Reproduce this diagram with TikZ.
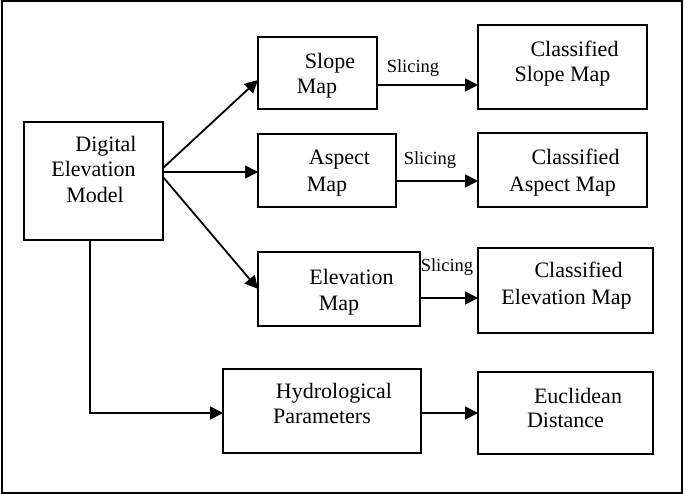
\documentclass[tikz,border=0pt]{standalone}
\usepackage{fontspec}
\setmainfont{Liberation Serif}
\usetikzlibrary{arrows.meta}
\begin{document}
\begin{tikzpicture}[x=1pt,y=-1pt,
  box/.style={draw=black,line width=1.4pt,inner sep=0pt,outer sep=0pt},
  txt/.style={font=\fontsize{22}{25}\selectfont,anchor=base,inner sep=0pt,text=black},
  sl/.style={font=\fontsize{18.5}{20}\selectfont,anchor=base,inner sep=0pt,text=black},
  arr/.style={line width=1.8pt,-{Triangle[length=13pt,width=13pt]}},
  ln/.style={line width=1.8pt}]
\useasboundingbox (0,0) rectangle (685,494);
\draw[line width=2pt] (1.5,1.5) rectangle (681.5,492.5);
% boxes
\node[box,minimum width=139pt,minimum height=118pt] (dem) at (93.5,181) {};
\node[box,minimum width=119pt,minimum height=72pt] (slope) at (317.5,73) {};
\node[box,minimum width=169pt,minimum height=84pt] (cslope) at (562.5,67) {};
\node[box,minimum width=138pt,minimum height=73pt] (aspect) at (327,170.5) {};
\node[box,minimum width=169pt,minimum height=74pt] (caspect) at (562.5,170) {};
\node[box,minimum width=162pt,minimum height=74pt] (elev) at (339,289) {};
\node[box,minimum width=175pt,minimum height=85pt] (celev) at (565.5,290.5) {};
\node[box,minimum width=198pt,minimum height=84pt] (hydro) at (322,411) {};
\node[box,minimum width=175pt,minimum height=82pt] (euclid) at (565.5,413) {};
% texts
\node[txt] (demA) at (106,151.7) {Digital};
\node[txt] (demB) at (93.5,176.7) {Elevation};
\node[txt] (demC) at (95,203) {Model};
\node[txt] (slopeA) at (330,68.3) {Slope};
\node[txt] (slopeB) at (317,93.3) {Map};
\node[txt] (cslopeA) at (574.5,56.7) {Classified};
\node[txt] (cslopeB) at (562.5,81.7) {Slope Map};
\node[txt] (aspectA) at (339.5,165) {Aspect};
\node[txt] (aspectB) at (327,191.7) {Map};
\node[txt] (caspectA) at (575.5,165) {Classified};
\node[txt] (caspectB) at (562.5,191.7) {Aspect Map};
\node[txt] (elevA) at (351.5,284) {Elevation};
\node[txt] (elevB) at (339,310.7) {Map};
\node[txt] (celevA) at (578.5,278) {Classified};
\node[txt] (celevB) at (566.5,305) {Elevation Map};
\node[txt] (hydroA) at (334,398) {Hydrological};
\node[txt] (hydroB) at (322,423) {Parameters};
\node[txt] (euclidA) at (578,403) {Euclidean};
\node[txt] (euclidB) at (565.5,427) {Distance};
% slicing labels
\node[sl] (sl1) at (413,72.3) {Slicing};
\node[sl] (sl2) at (430,165) {Slicing};
\node[sl] (sl3) at (447,271.7) {Slicing};
% connector anchors
\coordinate (d1) at ([yshift=13pt]dem.east);
\coordinate (d2) at ([yshift=9pt]dem.east);
\coordinate (d3) at ([yshift=4pt]dem.east);
\coordinate (s1) at ([yshift=-12pt]slope.east);
\coordinate (a1) at ([yshift=-10.5pt]aspect.east);
\coordinate (e1) at ([yshift=-9pt]elev.east);
\coordinate (h1) at ([yshift=-2pt]hydro.east);
\coordinate (h0) at ([yshift=-2pt]hydro.west);
\coordinate (dd) at ([xshift=-3.5pt]dem.south);
% connectors
\draw[arr] (d1) -- ([yshift=-7pt]slope.west);
\draw[arr] (d2) -- (d2 -| aspect.west);
\draw[arr] (d3) -- (elev.west);
\draw[arr] (s1) -- (s1 -| cslope.west);
\draw[arr] (a1) -- (a1 -| caspect.west);
\draw[arr] (e1) -- (e1 -| celev.west);
\draw[arr] (h1) -- (h1 -| euclid.west);
\draw[arr] (dd) |- (h0);
\end{tikzpicture}
\end{document}
